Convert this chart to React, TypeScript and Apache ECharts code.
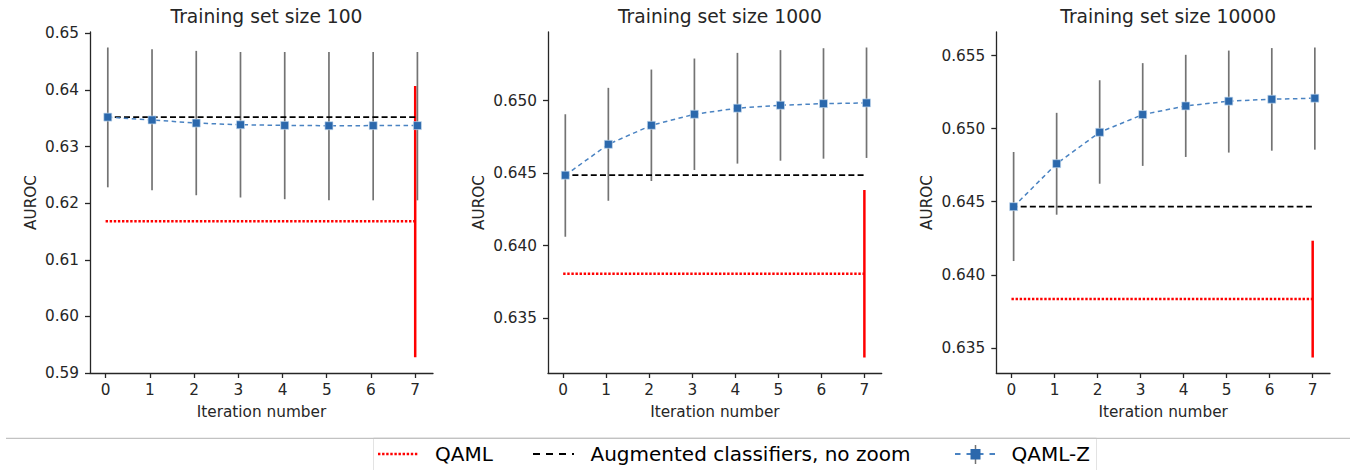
import React, { useEffect, useRef } from "react";
import * as echarts from "echarts";

// ---------- data ----------
const iterations = [0, 1, 2, 3, 4, 5, 6, 7];
const trainingSizes = [100, 1000, 10000];

// QAML-Z mean and error bar bounds per training-set size
const qamlzMean100 = [0.6352, 0.6347, 0.63415, 0.63385, 0.63374, 0.63368, 0.6337, 0.6337];
const qamlzLow100 = [0.6228, 0.6223, 0.6214, 0.621, 0.6207, 0.6205, 0.6205, 0.6205];
const qamlzHigh100 = [0.6475, 0.6472, 0.6469, 0.6467, 0.6467, 0.6467, 0.6467, 0.6467];

const qamlzMean1000 = [0.64486, 0.64699, 0.6483, 0.64906, 0.64948, 0.64968, 0.64979, 0.64984];
const qamlzLow1000 = [0.64062, 0.6431, 0.64446, 0.64522, 0.64566, 0.64586, 0.646, 0.64605];
const qamlzHigh1000 = [0.64906, 0.65088, 0.65214, 0.6529, 0.65329, 0.65348, 0.65361, 0.65366];

const qamlzMean10000 = [0.64466, 0.6476, 0.64975, 0.65096, 0.65155, 0.65188, 0.65201, 0.65208];
const qamlzLow10000 = [0.64094, 0.64411, 0.64623, 0.64745, 0.64806, 0.64836, 0.64849, 0.64856];
const qamlzHigh10000 = [0.6484, 0.65108, 0.65331, 0.65448, 0.65505, 0.65534, 0.65551, 0.65555];

// Augmented classifiers (no zoom) baseline
const augmentedValues = [0.6352, 0.64486, 0.64466];
// QAML baseline: mean, low, high
const qamlValues = [0.6168, 0.63807, 0.63834];
const qamlLows = [0.5928, 0.6323, 0.63434];
const qamlHighs = [0.6407, 0.64384, 0.64233];

// y tick labels per panel
const yTicks100 = [0.59, 0.6, 0.61, 0.62, 0.63, 0.64, 0.65];
const yTicks1000 = [0.635, 0.64, 0.645, 0.65];
const yTicks10000 = [0.635, 0.64, 0.645, 0.65, 0.655];
const yDecimals = [2, 3, 3];

const legendLabels = ["QAML", "Augmented classifiers, no zoom", "QAML-Z"];
const xAxisName = "Iteration number";
const yAxisName = "AUROC";

const QAMLZ_OFFSET = 0.05;

const panels = [
  { mean: qamlzMean100, low: qamlzLow100, high: qamlzHigh100, ticks: yTicks100 },
  { mean: qamlzMean1000, low: qamlzLow1000, high: qamlzHigh1000, ticks: yTicks1000 },
  { mean: qamlzMean10000, low: qamlzLow10000, high: qamlzHigh10000, ticks: yTicks10000 },
];

const FONT = "DejaVu Sans";
const gridBoxes = [
  { left: 90, width: 343 },
  { left: 548, width: 333.7 },
  { left: 996.3, width: 333.7 },
];
const GRID_TOP = 32;
const GRID_HEIGHT = 341;
const nameGaps = [52, 62, 62];

function errorBarSeries(
  xAxisIndex: number,
  data: number[][],
  color: string,
  width: number,
  name: string
) {
  return {
    type: "custom",
    name,
    xAxisIndex,
    yAxisIndex: xAxisIndex,
    data,
    encode: { x: 0, y: [1, 2] },
    silent: true,
    renderItem: (params: any, api: any) => {
      const x = api.value(0);
      const p1 = api.coord([x, api.value(1)]);
      const p2 = api.coord([x, api.value(2)]);
      return {
        type: "line",
        shape: { x1: p1[0], y1: p1[1], x2: p2[0], y2: p2[1] },
        style: { stroke: color, lineWidth: width },
      };
    },
  };
}

export default function App() {
  const ref = useRef<HTMLDivElement>(null);

  useEffect(() => {
    if (!ref.current) return;
    const chart = echarts.init(ref.current, undefined, { renderer: "svg" });

    const grids: any[] = [];
    const xAxes: any[] = [];
    const yAxes: any[] = [];
    const titles: any[] = [];
    const series: any[] = [];

    const xMinData = iterations[0];
    const xMaxData = iterations[iterations.length - 1] + QAMLZ_OFFSET;
    const xMargin = (xMaxData - xMinData) * 0.05;

    panels.forEach((p, i) => {
      const g = gridBoxes[i];
      grids.push({ left: g.left, top: GRID_TOP, width: g.width, height: GRID_HEIGHT, containLabel: false });

      const allVals = [...p.low, ...p.high, qamlLows[i], qamlHighs[i]];
      const yMin = Math.min(...allVals);
      const yMax = Math.max(...allVals);
      const yMargin = (yMax - yMin) * 0.05;
      const axisMin = Math.min(yMin - yMargin, p.ticks[0]);
      const axisMax = Math.max(yMax + yMargin, p.ticks[p.ticks.length - 1]);

      const axisLineStyle = { color: "#262626", width: 1.3 };
      xAxes.push({
        type: "value",
        gridIndex: i,
        min: xMinData - xMargin,
        max: xMaxData + xMargin,
        name: xAxisName,
        nameLocation: "middle",
        nameGap: 31,
        nameTextStyle: { fontFamily: FONT, fontSize: 15.3, color: "#262626" },
        axisLine: { show: true, onZero: false, lineStyle: axisLineStyle },
        axisTick: { show: true, length: 5, inside: false, customValues: iterations, lineStyle: axisLineStyle },
        axisLabel: {
          customValues: iterations,
          margin: 9,
          fontFamily: FONT,
          fontSize: 15.3,
          color: "#262626",
          formatter: (v: number) => String(Math.round(v)),
        },
        splitLine: { show: false },
      });
      yAxes.push({
        type: "value",
        gridIndex: i,
        min: axisMin,
        max: axisMax,
        name: yAxisName,
        nameLocation: "middle",
        nameGap: nameGaps[i],
        nameRotate: 90,
        nameTextStyle: { fontFamily: FONT, fontSize: 15.3, color: "#262626" },
        axisLine: { show: true, onZero: false, lineStyle: axisLineStyle },
        axisTick: { show: true, length: 5, inside: false, customValues: p.ticks, lineStyle: axisLineStyle },
        axisLabel: {
          customValues: p.ticks,
          margin: 11,
          fontFamily: FONT,
          fontSize: 15.3,
          color: "#262626",
          formatter: (v: number) => v.toFixed(yDecimals[i]),
        },
        splitLine: { show: false },
      });
      titles.push({
        text: `Training set size ${trainingSizes[i]}`,
        left: g.left + g.width / 2,
        top: 2,
        textAlign: "center",
        textStyle: { fontFamily: FONT, fontSize: 18.7, fontWeight: "normal", color: "#262626" },
      });

      const x0 = iterations[0];
      const x7 = iterations[iterations.length - 1];

      // QAML dotted baseline
      series.push({
        type: "line",
        name: legendLabels[0],
        xAxisIndex: i,
        yAxisIndex: i,
        data: [
          [x0, qamlValues[i]],
          [x7, qamlValues[i]],
        ],
        symbol: "none",
        lineStyle: { color: "#ff0000", width: 2.4, type: [2.4, 1.7] },
        z: 2,
      });
      // QAML error bar
      series.push(errorBarSeries(i, [[x7, qamlLows[i], qamlHighs[i]]], "#ff0000", 2.5, legendLabels[0] + " error"));
      // Augmented baseline dashed
      series.push({
        type: "line",
        name: legendLabels[1],
        xAxisIndex: i,
        yAxisIndex: i,
        data: [
          [x0, augmentedValues[i]],
          [x7, augmentedValues[i]],
        ],
        symbol: "none",
        lineStyle: { color: "#000000", width: 1.7, type: [6, 3.2] },
        z: 2,
      });
      // QAML-Z error bars
      series.push(
        errorBarSeries(
          i,
          iterations.map((it, k) => [it + QAMLZ_OFFSET, p.low[k], p.high[k]]),
          "#737373",
          1.7,
          legendLabels[2] + " error"
        )
      );
      // QAML-Z line
      series.push({
        type: "line",
        name: legendLabels[2],
        xAxisIndex: i,
        yAxisIndex: i,
        data: iterations.map((it, k) => [it + QAMLZ_OFFSET, p.mean[k]]),
        symbol: "rect",
        symbolSize: 8,
        itemStyle: { color: "#2b68ac", borderColor: "rgba(200,220,240,0.8)", borderWidth: 0.8 },
        lineStyle: { color: "#4a83c2", width: 1.5, type: [4.5, 3.5] },
        z: 4,
      });
    });

    const legendY = 454;
    const graphic: any[] = [
      { type: "rect", shape: { x: 373.5, y: 438, width: 723, height: 40 }, style: { fill: "#ffffff", stroke: "#e3e3e3", lineWidth: 1 } },
      { type: "line", shape: { x1: 6, y1: 438.3, x2: 1350, y2: 438.3 }, style: { stroke: "#c2c2c2", lineWidth: 1.3 } },
      { type: "line", shape: { x1: 378, y1: legendY, x2: 418, y2: legendY }, style: { stroke: "#ff0000", lineWidth: 2.5, lineDash: [2.4, 1.7] } },
      { type: "text", x: 435, y: legendY, style: { text: legendLabels[0], fontFamily: FONT, fontSize: 20, fill: "#000", verticalAlign: "middle", align: "left" } },
      { type: "line", shape: { x1: 533, y1: legendY, x2: 574, y2: legendY }, style: { stroke: "#000000", lineWidth: 2, lineDash: [7, 6] } },
      { type: "text", x: 590.5, y: legendY, style: { text: legendLabels[1], fontFamily: FONT, fontSize: 20, fill: "#000", verticalAlign: "middle", align: "left" } },
      { type: "line", shape: { x1: 955, y1: legendY, x2: 996, y2: legendY }, style: { stroke: "#4a83c2", lineWidth: 2, lineDash: [5.5, 6] } },
      { type: "line", shape: { x1: 975.5, y1: 445, x2: 975.5, y2: 464 }, style: { stroke: "#737373", lineWidth: 1.5 } },
      { type: "rect", shape: { x: 970.5, y: 449, width: 10, height: 10.5 }, style: { fill: "#2b68ac" } },
      { type: "text", x: 1011.5, y: legendY, style: { text: legendLabels[2], fontFamily: FONT, fontSize: 20, fill: "#000", verticalAlign: "middle", align: "left" } },
    ];

    chart.setOption({
      animation: false,
      backgroundColor: "#ffffff",
      textStyle: { fontFamily: FONT },
      title: titles,
      grid: grids,
      xAxis: xAxes,
      yAxis: yAxes,
      series,
      graphic,
    });

    return () => {
      chart.dispose();
    };
  }, []);

  return (
    <div
      ref={ref}
      style={{ position: "absolute", left: 0, top: 0, width: 1355, height: 470 }}
    />
  );
}
